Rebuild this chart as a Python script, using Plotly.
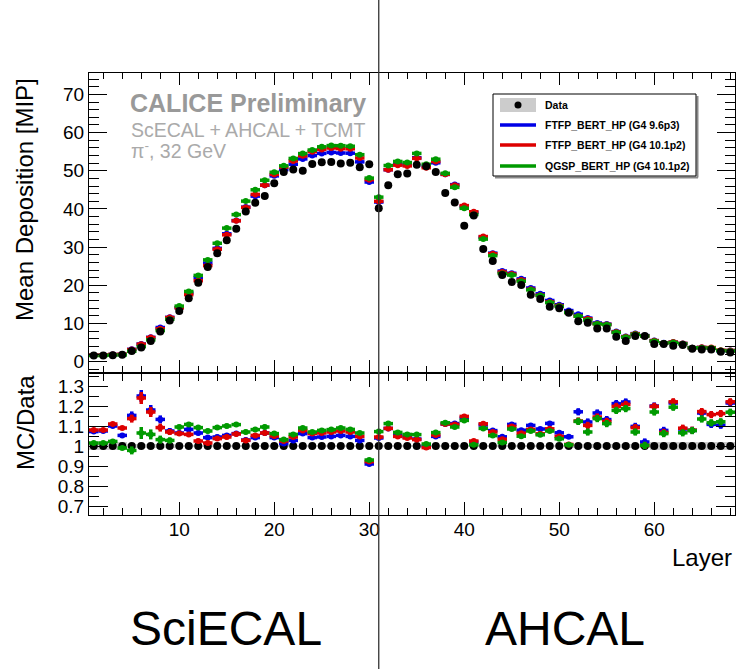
import plotly.graph_objects as go

layers = list(range(1, 69))

data = [1.6, 1.6, 1.7, 1.8, 2.8, 3.7, 5.4, 7.9, 10.8, 13.3,
        16.6, 20.7, 24.8, 28.4, 31.8, 34.8, 39.3, 41.6, 43.4, 46.7,
        49.7, 50.3, 50.0, 51.8, 52.2, 52.3, 51.9, 52.1, 50.9, 51.7,
        40.2, 46.2, 49.1, 49.3, 51.6, 51.2, 49.7, 44.2, 41.7, 35.6,
        38.3, 29.5, 26.4, 22.7, 20.9, 20.1, 17.5, 16.4, 14.4, 14.0,
        12.8, 10.6, 10.2, 8.7, 8.7, 6.5, 5.4, 6.7, 6.7, 4.6,
        4.6, 4.2, 4.4, 3.4, 3.2, 3.2, 2.6, 2.4]

mc_ftfp96 = [1.72, 1.72, 1.87, 1.90, 3.23, 4.63, 6.37, 8.95, 11.61, 14.16,
             17.98, 22.05, 25.84, 29.68, 33.49, 36.96, 40.48, 43.35, 46.22, 48.66,
             50.30, 51.71, 53.10, 53.98, 54.55, 54.81, 54.65, 54.60, 52.33, 47.05,
             41.81, 50.27, 51.70, 51.52, 53.41, 51.20, 52.09, 49.06, 46.37, 40.58,
             39.07, 32.60, 28.43, 23.74, 23.16, 21.69, 19.30, 17.79, 16.03, 14.92,
             13.39, 12.41, 11.42, 10.14, 9.85, 7.88, 6.59, 7.36, 6.83, 5.52,
             4.96, 5.10, 4.77, 3.67, 3.73, 3.55, 2.87, 2.92]

mc_ftfp101 = [1.73, 1.73, 1.89, 1.96, 3.18, 4.59, 6.32, 8.63, 11.56, 14.12,
              17.56, 21.22, 25.17, 29.45, 33.23, 36.89, 40.40, 43.80, 46.22, 49.04,
              50.94, 52.56, 53.90, 55.01, 55.59, 55.96, 55.79, 55.75, 53.34, 47.67,
              42.01, 50.27, 51.46, 51.27, 53.25, 50.79, 52.43, 49.06, 46.20, 40.87,
              39.26, 32.77, 28.25, 23.47, 22.95, 21.39, 18.95, 17.40, 15.64, 14.67,
              12.90, 11.93, 11.25, 9.96, 9.77, 7.79, 6.52, 7.32, 6.72, 5.51,
              4.91, 5.13, 4.79, 3.67, 3.75, 3.70, 3.02, 2.93]

mc_qgsp101 = [1.62, 1.62, 1.74, 1.78, 2.74, 3.94, 5.71, 8.15, 11.10, 14.56,
              18.39, 22.60, 26.66, 31.01, 34.98, 38.52, 42.05, 45.01, 47.52, 49.60,
              51.29, 53.22, 54.50, 55.43, 56.27, 56.59, 56.57, 56.42, 54.21, 48.08,
              43.09, 51.37, 52.44, 52.16, 54.54, 51.71, 53.03, 49.33, 45.66, 40.16,
              38.53, 32.10, 27.77, 23.09, 22.68, 21.08, 18.81, 17.32, 15.48, 14.50,
              12.88, 11.90, 10.91, 9.89, 9.67, 7.66, 6.41, 7.17, 6.72, 5.38,
              4.89, 5.01, 4.69, 3.66, 3.63, 3.57, 2.91, 2.81]

ratio_ftfp96 = [1.072, 1.075, 1.100, 1.053, 1.153, 1.250, 1.180, 1.133, 1.075, 1.065,
                1.083, 1.065, 1.042, 1.045, 1.053, 1.062, 1.030, 1.042, 1.065, 1.042,
                1.012, 1.028, 1.062, 1.042, 1.045, 1.048, 1.053, 1.048, 1.028, 0.910,
                1.040, 1.088, 1.053, 1.045, 1.035, 1.000, 1.048, 1.110, 1.112, 1.140,
                1.020, 1.105, 1.077, 1.046, 1.108, 1.079, 1.103, 1.085, 1.113, 1.066,
                1.046, 1.171, 1.120, 1.165, 1.132, 1.212, 1.220, 1.098, 1.020, 1.200,
                1.078, 1.215, 1.085, 1.078, 1.165, 1.108, 1.104, 1.215]

ratio_ftfp101 = [1.080, 1.080, 1.110, 1.090, 1.137, 1.240, 1.170, 1.092, 1.070, 1.062,
                 1.058, 1.025, 1.015, 1.037, 1.045, 1.060, 1.028, 1.053, 1.065, 1.050,
                 1.025, 1.045, 1.078, 1.062, 1.065, 1.070, 1.075, 1.070, 1.048, 0.922,
                 1.045, 1.088, 1.048, 1.040, 1.032, 0.992, 1.055, 1.110, 1.108, 1.148,
                 1.025, 1.111, 1.070, 1.034, 1.098, 1.064, 1.083, 1.061, 1.086, 1.048,
                 1.008, 1.125, 1.103, 1.145, 1.123, 1.198, 1.208, 1.092, 1.003, 1.198,
                 1.068, 1.221, 1.089, 1.079, 1.172, 1.157, 1.162, 1.221]

ratio_qgsp101 = [1.015, 1.015, 1.023, 0.990, 0.978, 1.065, 1.058, 1.032, 1.028, 1.095,
                 1.108, 1.092, 1.075, 1.092, 1.100, 1.107, 1.070, 1.082, 1.095, 1.062,
                 1.032, 1.058, 1.090, 1.070, 1.078, 1.082, 1.090, 1.083, 1.065, 0.930,
                 1.072, 1.112, 1.068, 1.058, 1.057, 1.010, 1.067, 1.116, 1.095, 1.128,
                 1.006, 1.088, 1.052, 1.017, 1.085, 1.049, 1.075, 1.056, 1.075, 1.036,
                 1.006, 1.123, 1.070, 1.137, 1.112, 1.178, 1.187, 1.070, 1.003, 1.170,
                 1.062, 1.194, 1.066, 1.077, 1.135, 1.116, 1.121, 1.169]

ratio_err = [0.006, 0.006, 0.006, 0.006, 0.020, 0.030, 0.025, 0.020, 0.015, 0.012,
             0.012, 0.012, 0.012, 0.012, 0.012, 0.012, 0.012, 0.012, 0.012, 0.012,
             0.010, 0.010, 0.010, 0.010, 0.010, 0.010, 0.010, 0.010, 0.010, 0.010,
             0.008, 0.008, 0.008, 0.008, 0.008, 0.008, 0.008, 0.008, 0.008, 0.008,
             0.008, 0.008, 0.008, 0.008, 0.008, 0.008, 0.008, 0.008, 0.008, 0.008,
             0.010, 0.018, 0.018, 0.018, 0.018, 0.018, 0.018, 0.018, 0.018, 0.018,
             0.018, 0.018, 0.018, 0.018, 0.018, 0.018, 0.018, 0.018]

data_rel_err = [0.020, 0.020, 0.020, 0.020, 0.012, 0.012, 0.012, 0.012, 0.012, 0.004,
                0.004, 0.004, 0.004, 0.004, 0.004, 0.004, 0.004, 0.004, 0.004, 0.004,
                0.004, 0.004, 0.004, 0.004, 0.004, 0.004, 0.004, 0.004, 0.004, 0.004,
                0.004, 0.004, 0.004, 0.004, 0.004, 0.004, 0.004, 0.004, 0.004, 0.004,
                0.004, 0.004, 0.004, 0.004, 0.004, 0.004, 0.004, 0.004, 0.004, 0.004,
                0.008, 0.008, 0.008, 0.008, 0.008, 0.008, 0.008, 0.008, 0.008, 0.020,
                0.020, 0.020, 0.020, 0.020, 0.020, 0.020, 0.020, 0.020]

data_ratio = [1.0] * len(layers)

series_names = ["FTFP_BERT_HP (G4 9.6p3)", "FTFP_BERT_HP (G4 10.1p2)", "QGSP_BERT_HP (G4 10.1p2)"]
colors = ["#0000e6", "#dd0000", "#009a00"]
GREY_BAND = "#cccccc"
FONT = "Liberation Sans"

# plot-area geometry in pixels (used only for placing decorations)
W, H = 738, 669
ML, MR, MT, MB = 89, 3, 73, 154
PW, PH = W - ML - MR, H - MT - MB


def px(x):
    return (x - ML) / PW


def py(y):
    return (H - MB - y) / PH


fig = go.Figure()

# ---- top panel: MC histograms ----
for name, vals, col in zip(series_names, [mc_ftfp96, mc_ftfp101, mc_qgsp101], colors):
    fig.add_trace(go.Scatter(
        x=layers, y=vals, mode="markers", name=name, showlegend=False,
        marker=dict(size=0, color=col),
        error_x=dict(type="constant", value=0.5, thickness=3.5, width=0, color=col),
        xaxis="x", yaxis="y"))

# data points
fig.add_trace(go.Scatter(
    x=layers, y=data, mode="markers", name="Data", showlegend=False,
    marker=dict(size=8, color="black", symbol="circle"),
    xaxis="x", yaxis="y"))

# ---- ratio panel ----
fig.add_trace(go.Bar(
    x=layers, y=[2 * e for e in data_rel_err], base=[r - e for r, e in zip(data_ratio, data_rel_err)],
    width=1.0, marker=dict(color=GREY_BAND, line=dict(width=0)), showlegend=False,
    xaxis="x2", yaxis="y2", hoverinfo="skip"))

fig.add_trace(go.Scatter(
    x=layers, y=data_ratio, mode="markers", showlegend=False,
    marker=dict(size=8, color="black"), xaxis="x2", yaxis="y2"))

for name, vals, col in zip(series_names, [ratio_ftfp96, ratio_ftfp101, ratio_qgsp101], colors):
    fig.add_trace(go.Scatter(
        x=layers, y=vals, mode="markers", name=name, showlegend=False,
        marker=dict(size=0, color=col),
        error_x=dict(type="constant", value=0.5, thickness=3.5, width=0, color=col),
        error_y=dict(type="data", array=ratio_err, thickness=3.5, width=0, color=col),
        xaxis="x2", yaxis="y2"))

axis_common = dict(showline=True, mirror="allticks", linecolor="black", linewidth=1,
                   ticks="inside", tickcolor="black", showgrid=False, zeroline=False,
                   tickfont=dict(family=FONT, size=19, color="black"))

fig.update_layout(
    width=W, height=H,
    margin=dict(l=ML, r=MR, t=MT, b=MB),
    paper_bgcolor="white", plot_bgcolor="white",
    showlegend=False, bargap=0,
    xaxis=dict(domain=[0, 1], anchor="y", range=[0.5, 68.5], tick0=0, dtick=10, ticklen=12,
               showticklabels=False,
               minor=dict(dtick=2, tick0=0, ticklen=6, ticks="inside", tickcolor="black"),
               **axis_common),
    yaxis=dict(domain=[(H - MB - 372) / PH, 1], anchor="x", range=[-2.7, 75.6], tick0=0, dtick=10,
               ticklen=18, minor=dict(dtick=2, tick0=0, ticklen=10, ticks="inside", tickcolor="black"),
               **axis_common),
    xaxis2=dict(domain=[0, 1], anchor="y2", matches="x", range=[0.5, 68.5], tick0=0, dtick=10,
                ticklen=13, ticklabelstandoff=-3,
                minor=dict(dtick=2, tick0=0, ticklen=7, ticks="inside", tickcolor="black"),
                **axis_common),
    yaxis2=dict(domain=[0, (H - MB - 374) / PH], anchor="x2", range=[0.655, 1.36], tick0=0, dtick=0.1,
                ticklen=19, minor=dict(dtick=0.05, tick0=0, ticklen=10, ticks="inside", tickcolor="black"),
                **axis_common),
)

shapes = []
annotations = []

# separator line between SciECAL and AHCAL (at layer 31)
shapes.append(dict(type="line", xref="x", yref="paper", x0=31, x1=31, y0=py(H), y1=py(0),
                   line=dict(color="#333333", width=1.3), layer="above"))

# legend box
shapes.append(dict(type="line", xref="paper", yref="paper", x0=px(495), x1=px(698), y0=py(177.5), y1=py(177.5),
                   line=dict(color="#888888", width=2)))
shapes.append(dict(type="line", xref="paper", yref="paper", x0=px(697.5), x1=px(697.5), y0=py(96), y1=py(177.5),
                   line=dict(color="#888888", width=2)))
shapes.append(dict(type="rect", xref="paper", yref="paper", x0=px(493), x1=px(696), y0=py(176), y1=py(94),
                   line=dict(color="black", width=1), fillcolor="white", layer="above"))
shapes.append(dict(type="rect", xref="paper", yref="paper", x0=px(500), x1=px(536), y0=py(112), y1=py(98),
                   line=dict(width=0), fillcolor=GREY_BAND, layer="above"))
shapes.append(dict(type="circle", xref="paper", yref="paper", x0=px(514.5), x1=px(521.5), y0=py(108.5), y1=py(101.5),
                   line=dict(width=0), fillcolor="black", layer="above"))
leg_y = [125, 145, 166]
for yy, col in zip(leg_y, colors):
    shapes.append(dict(type="line", xref="paper", yref="paper", x0=px(500), x1=px(536), y0=py(yy), y1=py(yy),
                       line=dict(color=col, width=3.5), layer="above"))
for txt, yy in zip(["Data"] + series_names, [105] + leg_y):
    annotations.append(dict(text="<b>" + txt + "</b>", xref="paper", yref="paper", x=px(543), y=py(yy),
                            xanchor="left", yanchor="middle", showarrow=False,
                            font=dict(family=FONT, size=10.5, color="black")))

# CALICE labels
annotations.append(dict(text="<b>CALICE Preliminary</b>", xref="paper", yref="paper", x=px(128), y=py(103),
                        xanchor="left", yanchor="middle", showarrow=False,
                        font=dict(family=FONT, size=25, color="#999999")))
annotations.append(dict(text="ScECAL + AHCAL + TCMT", xref="paper", yref="paper", x=px(129), y=py(130),
                        xanchor="left", yanchor="middle", showarrow=False,
                        font=dict(family=FONT, size=19.5, color="#aaaaaa")))
annotations.append(dict(text="π<sup>-</sup>, 32 GeV", xref="paper", yref="paper", x=px(129), y=py(150),
                        xanchor="left", yanchor="middle", showarrow=False,
                        font=dict(family=FONT, size=19.5, color="#aaaaaa")))

# axis titles
annotations.append(dict(text="Mean Deposition [MIP]", xref="paper", yref="paper", x=px(24), y=py(200),
                        xanchor="center", yanchor="middle", textangle=-90, showarrow=False,
                        font=dict(family=FONT, size=24, color="black")))
annotations.append(dict(text="MC/Data", xref="paper", yref="paper", x=px(25), y=py(423),
                        xanchor="center", yanchor="middle", textangle=-90, showarrow=False,
                        font=dict(family=FONT, size=24, color="black")))
annotations.append(dict(text="Layer", xref="paper", yref="paper", x=px(734), y=py(557),
                        xanchor="right", yanchor="middle", showarrow=False,
                        font=dict(family=FONT, size=24, color="black")))

# detector labels
annotations.append(dict(text="SciECAL", xref="paper", yref="paper", x=px(226), y=py(628),
                        xanchor="center", yanchor="middle", showarrow=False,
                        font=dict(family=FONT, size=48, color="black")))
annotations.append(dict(text="AHCAL", xref="paper", yref="paper", x=px(565), y=py(628),
                        xanchor="center", yanchor="middle", showarrow=False,
                        font=dict(family=FONT, size=48, color="black")))

fig.update_layout(shapes=shapes, annotations=annotations)

fig.write_html("out.html")
